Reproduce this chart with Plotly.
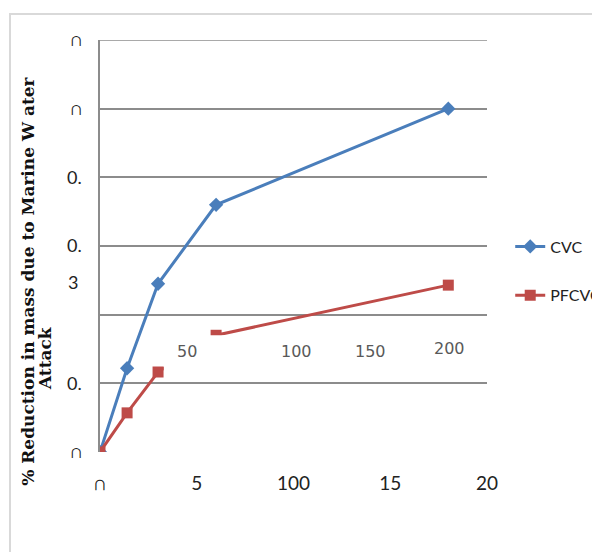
import plotly.graph_objects as go

# Data
days = [0, 7, 15, 30, 90]
cvc = [0.0, 0.122, 0.245, 0.36, 0.50]
pfcvc = [0.0, 0.057, 0.1165, 0.17, 0.243]

x_tickvals = [0, 25, 50, 75, 100]
x_ticktext = ["\u2229", "5", "100", "15", "20"]
y_tickvals = [0, 0.1, 0.2, 0.3, 0.4, 0.5, 0.6]
y_ticktext = ["\u2229", "0.", "", "0.", "0.", "\u2229", "\u2229"]

mid_labels = ["50", "100", "150", "200"]
mid_label_x = [22.5, 50.9, 69.8, 90.4]
mid_label_y = [0.146, 0.146, 0.147, 0.151]

BLUE = "#4a7ebb"
RED = "#be4b48"
GRID = "#8c8c8c"

fig = go.Figure()
fig.add_trace(go.Scatter(
    x=days, y=cvc, name="CVC", mode="lines+markers",
    line=dict(color=BLUE, width=3),
    marker=dict(symbol="diamond", size=11, color=BLUE),
    legendgroup="a",
))
fig.add_trace(go.Scatter(
    x=days, y=pfcvc, name="PFCVC", mode="lines+markers",
    line=dict(color=RED, width=3),
    marker=dict(symbol="square", size=11, color=RED),
    legendgroup="b",
))

# top gridline (plotly drops the one on the range edge)
fig.add_shape(type="line", xref="paper", yref="y", x0=0, x1=1,
              y0=y_tickvals[-1], y1=y_tickvals[-1],
              line=dict(color=GRID, width=1.5), layer="below")

# white box overlapping the plot (as in the original rendering)
fig.add_shape(type="rect", xref="x", yref="y", x0=16.5, x1=98, y0=0.119, y1=0.170,
              fillcolor="white", line=dict(width=0), layer="above")

for t, xv, yv in zip(mid_labels, mid_label_x, mid_label_y):
    fig.add_annotation(x=xv, y=yv, xref="x", yref="y", text=t, showarrow=False,
                       font=dict(family="DejaVu Sans", size=16, color="#595959"))

# extra wrapped digit of the 0.3 label
fig.add_annotation(x=-0.07, y=0.247, xref="paper", yref="y", text="3", showarrow=False,
                   xanchor="center", font=dict(family="Lato", size=18, color="#222"))

fig.add_annotation(x=-0.186, y=0.413, xref="paper", yref="paper",
                   text="<b>% Reduction in mass due to Marine W ater</b>", showarrow=False,
                   textangle=-90, xanchor="center", yanchor="middle",
                   font=dict(family="DejaVu Serif", size=17, color="#111"))
fig.add_annotation(x=-0.142, y=0.228, xref="paper", yref="paper",
                   text="<b>Attack</b>", showarrow=False,
                   textangle=-90, xanchor="center", yanchor="middle",
                   font=dict(family="DejaVu Serif", size=17, color="#111"))

# outer chart border
fig.add_shape(type="rect", xref="paper", yref="paper",
              x0=(10 - 100) / 387, x1=(598 - 100) / 387,
              y0=(452 - 560) / 412, y1=(452 - 14) / 412,
              line=dict(color="#d9d9d9", width=2), layer="below")

fig.update_layout(
    width=592, height=544,
    margin=dict(l=92, r=113, t=32, b=100, autoexpand=False),
    paper_bgcolor="white", plot_bgcolor="white",
    showlegend=True,
    legend=dict(x=1.06, y=0.54, xanchor="left", yanchor="top",
                font=dict(family="Lato", size=16, color="#222"),
                tracegroupgap=25, bgcolor="rgba(0,0,0,0)"),
    xaxis=dict(range=[0, 100], tickvals=x_tickvals, ticktext=x_ticktext,
               showgrid=False, zeroline=False, showline=False,
               tickfont=dict(family="Lato", size=19, color="#222"),
               ticks="", ticklabelstandoff=18, automargin=False),
    yaxis=dict(range=[0, 0.6], tickvals=y_tickvals, ticktext=y_ticktext,
               showgrid=True, gridcolor=GRID, gridwidth=1.5,
               zeroline=False, showline=True, linecolor=GRID, linewidth=1.5,
               tickfont=dict(family="Lato", size=18, color="#222"),
               ticks="", ticklabelstandoff=13, automargin=False),
)

fig.write_html("out.html")
